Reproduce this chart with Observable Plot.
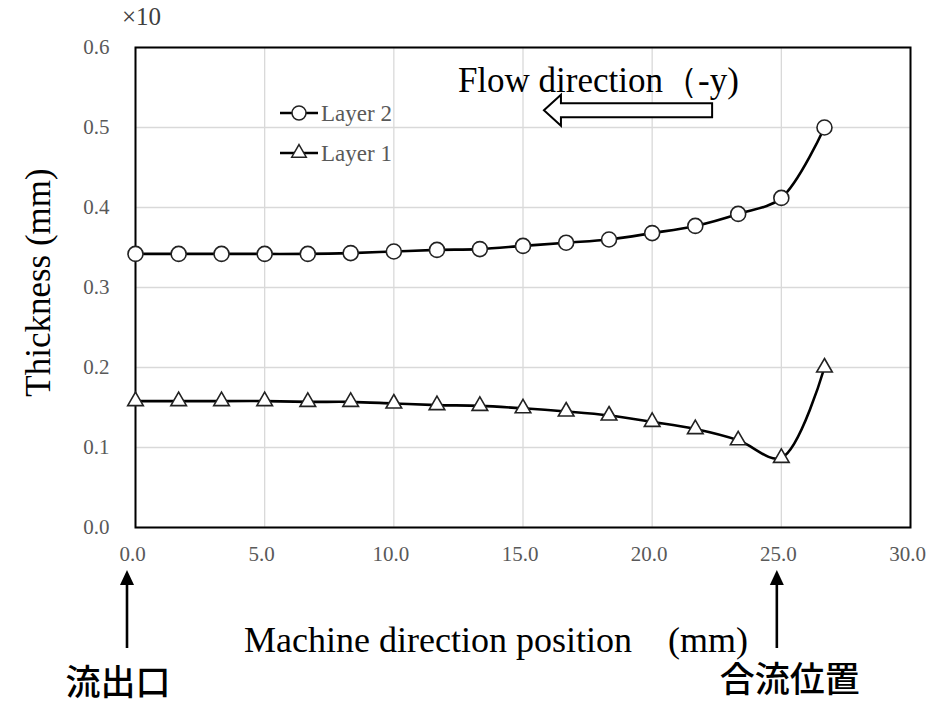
<!DOCTYPE html>
<html>
<head>
<meta charset="utf-8">
<script src="https://cdn.jsdelivr.net/npm/d3@7"></script>
<script src="https://cdn.jsdelivr.net/npm/@observablehq/plot@0.6"></script>
<style>
  body { margin: 0; background: #fff; }
  #chart svg { display: block; }
</style>
</head>
<body>
<div id="chart"></div>
<script>
// ---- data ----
const positions = [0, 1.67, 3.33, 5.0, 6.67, 8.33, 10.0, 11.67, 13.33, 15.0, 16.67, 18.33, 20.0, 21.67, 23.33, 25.0, 26.67];
const layer2 = [0.342, 0.342, 0.342, 0.342, 0.342, 0.343, 0.345, 0.347, 0.348, 0.352, 0.356, 0.360, 0.368, 0.377, 0.392, 0.412, 0.500];
const layer1 = [0.158, 0.158, 0.158, 0.158, 0.157, 0.157, 0.155, 0.153, 0.152, 0.149, 0.145, 0.140, 0.132, 0.123, 0.109, 0.087, 0.200];
const seriesNames = ["Layer 2", "Layer 1"];
const xTicks = [0, 5, 10, 15, 20, 25, 30];
const yTicks = [0, 0.1, 0.2, 0.3, 0.4, 0.5, 0.6];
const scaleNote = "×10";
const xTitle = "Machine direction position\u2003(mm)";
const yTitle = "Thickness (mm)";
const flowLabel = "Flow direction（-y)";
const outletLabel = "流出口";
const mergeLabel = "合流位置";
const outletPosition = 0;
const mergePosition = 25;

// ---- build table ----
const rows2 = positions.map((x, i) => ({series: seriesNames[0], x, y: layer2[i]}));
const rows1 = positions.map((x, i) => ({series: seriesNames[1], x, y: layer1[i]}));
const rows = rows2.concat(rows1);

const serif = '"Liberation Serif", "Times New Roman", serif';
const cjk = '"Noto Sans CJK JP", "Noto Sans CJK SC", sans-serif';
const fmt = d3.format(".1f");

const chart = Plot.plot({
  width: 930,
  height: 707,
  marginLeft: 135,
  marginRight: 20,
  marginTop: 47,
  marginBottom: 180,
  style: {fontFamily: serif, background: "#fff", overflow: "visible"},
  x: {domain: [0, 30]},
  y: {domain: [0, 0.6]},
  marks: [
    Plot.gridX(xTicks, {stroke: "#d9d9d9", strokeOpacity: 1, strokeWidth: 1.3}),
    Plot.gridY(yTicks, {stroke: "#d9d9d9", strokeOpacity: 1, strokeWidth: 1.3}),
    Plot.axisX(xTicks, {tickSize: 0, tickPadding: 19, tickFormat: fmt, fontSize: 21, fill: "#595959", label: null, dx: -3}),
    Plot.axisY(yTicks, {tickSize: 0, tickPadding: 26, tickFormat: fmt, fontSize: 21, fill: "#595959", label: null}),
    Plot.frame({stroke: "#000", strokeWidth: 2}),
    Plot.line(rows, {x: "x", y: "y", z: "series", curve: "catmull-rom", stroke: "#000", strokeWidth: 2.6}),
    Plot.dot(rows2, {x: "x", y: "y", symbol: "circle", r: 7.5, fill: "#fff", stroke: "#222", strokeWidth: 1.6}),
    Plot.dot(rows1, {x: "x", y: "y", symbol: "triangle", r: 5.8, fill: "#fff", stroke: "#222", strokeWidth: 1.6}),
    Plot.text([yTitle], {frameAnchor: "left", textAnchor: "middle", lineAnchor: "middle", dx: -97, dy: -5, rotate: -90, fontSize: 35, fill: "#000", fontFamily: serif}),
    Plot.text([xTitle], {frameAnchor: "bottom", textAnchor: "middle", lineAnchor: "middle", dx: -27, dy: 113, fontSize: 36, fill: "#000", fontFamily: serif})
  ]
});
document.getElementById("chart").appendChild(chart);

// ---- annotations ----
(function () {
  const svg = d3.select(chart);
  const sx = chart.scale("x"), sy = chart.scale("y");
  const X = v => sx.apply(v), Y = v => sy.apply(v);
  const frameTop = Y(0.6), frameBottom = Y(0);

  // scale note
  svg.append("text").attr("x", X(0) - 13).attr("y", frameTop - 22).attr("text-anchor", "start")
    .attr("font-family", serif).attr("font-size", 25).attr("fill", "#404040").text(scaleNote);

  // legend
  const legendX = X(0) + 145;
  [[113, "circle"], [153, "triangle"]].forEach(([ly, sym], i) => {
    const g = svg.append("g");
    g.append("line").attr("x1", legendX).attr("x2", legendX + 38).attr("y1", ly).attr("y2", ly)
      .attr("stroke", "#000").attr("stroke-width", 2.6);
    const shape = sym === "circle" ? d3.symbolCircle : d3.symbolTriangle;
    const size = sym === "circle" ? Math.PI * 7 * 7 : Math.PI * 5.4 * 5.4;
    g.append("path").attr("d", d3.symbol(shape, size)()).attr("transform", `translate(${legendX + 19},${ly})`)
      .attr("fill", "#fff").attr("stroke", "#222").attr("stroke-width", 1.5);
    g.append("text").attr("x", legendX + 41).attr("y", ly).attr("dy", "0.33em").attr("text-anchor", "start")
      .attr("font-family", serif).attr("font-size", 23).attr("fill", "#595959").text(seriesNames[i]);
  });

  // flow direction label and hollow arrow
  svg.append("text").attr("x", X(12.5)).attr("y", Y(0.544)).attr("text-anchor", "start")
    .attr("font-family", serif).attr("font-size", 35).attr("fill", "#000").text(flowLabel);
  const tip = X(15.83), neck = tip + 17, tail = X(22.34), my = Y(0.521);
  const bh = 7, hh = 15.5;
  const d = `M${tip},${my} L${neck},${my - hh} L${neck},${my - bh} L${tail},${my - bh} L${tail},${my + bh} L${neck},${my + bh} L${neck},${my + hh} Z`;
  svg.append("path").attr("d", d).attr("fill", "#fff").attr("stroke", "#000").attr("stroke-width", 2);

  // vertical arrows below the axis with CJK labels
  function upArrow(px, label, labelDx, baseline) {
    const tipY = frameBottom + 43, headY = frameBottom + 58, tailY = frameBottom + 121;
    svg.append("line").attr("x1", px).attr("x2", px).attr("y1", headY - 1).attr("y2", tailY)
      .attr("stroke", "#000").attr("stroke-width", 2.6);
    svg.append("path").attr("d", `M${px},${tipY} L${px - 7},${headY} L${px + 7},${headY} Z`).attr("fill", "#000");
    svg.append("text").attr("x", px + labelDx).attr("y", baseline).attr("text-anchor", "middle")
      .attr("font-family", cjk).attr("font-weight", 500).attr("font-size", 35).attr("fill", "#000").text(label);
  }
  upArrow(X(outletPosition) - 8, outletLabel, -9, 695);
  upArrow(X(mergePosition) - 4, mergeLabel, 13, 692);
})();
</script>
</body>
</html>
